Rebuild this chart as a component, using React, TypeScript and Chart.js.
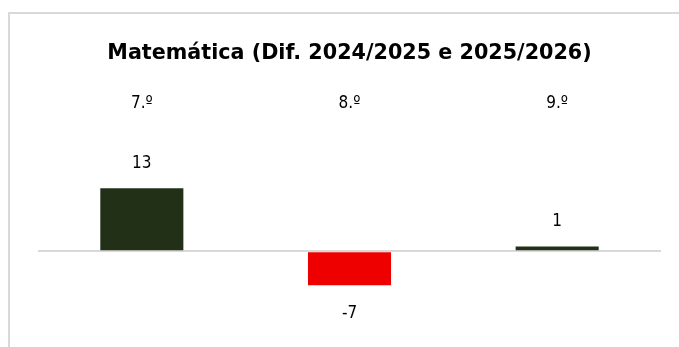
import React, { useEffect, useRef } from "react";
import { Chart, registerables } from "chart.js";

Chart.register(...registerables);

const categories = ["7.º", "8.º", "9.º"];
const values = [13, -7, 1];
const titleText = "Matemática (Dif. 2024/2025 e 2025/2026)";
const positiveColor = "#213017";
const negativeColor = "#ee0000";
const FONT = '"DejaVu Sans Condensed", "DejaVu Sans", sans-serif';
const TITLE_FONT = '"DejaVu Sans", sans-serif';

const framePlugin = {
  id: "frame",
  beforeDraw(chart: any) {
    const ctx = chart.ctx;
    ctx.save();
    ctx.fillStyle = "#ffffff";
    ctx.fillRect(0, 0, chart.width, chart.height);
    ctx.strokeStyle = "#d9d9d9";
    ctx.lineWidth = 2;
    ctx.beginPath();
    ctx.moveTo(9, chart.height);
    ctx.lineTo(9, 13);
    ctx.lineTo(chart.width, 13);
    ctx.stroke();
    ctx.restore();
  },
};

const valueLabelPlugin = {
  id: "valueLabels",
  afterDatasetsDraw(chart: any) {
    const ctx = chart.ctx;
    const meta = chart.getDatasetMeta(0);
    ctx.save();
    ctx.font = `17px ${FONT}`;
    ctx.fillStyle = "#000000";
    ctx.textAlign = "center";
    ctx.textBaseline = "middle";
    meta.data.forEach((bar: any, i: number) => {
      const v = values[i];
      const y = v >= 0 ? bar.y - 25 : bar.y + 28;
      ctx.fillText(String(v), bar.x, y);
    });
    ctx.restore();
  },
};

export default function App() {
  const ref = useRef<HTMLCanvasElement>(null);
  useEffect(() => {
    if (!ref.current) return;
    const chart = new Chart(ref.current, {
      type: "bar",
      data: {
        labels: categories,
        datasets: [
          {
            data: values,
            backgroundColor: values.map((v) => (v >= 0 ? positiveColor : negativeColor)),
            borderWidth: 0,
            barPercentage: 1,
            categoryPercentage: 0.4,
          },
        ],
      },
      options: {
        animation: false,
        responsive: false,
        maintainAspectRatio: false,
        layout: { padding: { left: 38, right: 18, top: 30, bottom: 6 } },
        plugins: {
          legend: { display: false },
          tooltip: { enabled: false },
          title: {
            display: true,
            text: titleText,
            color: "#000000",
            font: { family: TITLE_FONT, size: 20.7, weight: "bold" },
            padding: { top: 11, bottom: 24 },
          },
        },
        scales: {
          x: {
            position: "top",
            grid: { display: false, drawTicks: false },
            border: { display: false },
            ticks: {
              color: "#000000",
              font: { family: FONT, size: 17 },
              padding: 4,
            },
          },
          y: {
            min: -18.45,
            max: 27.4,
            grid: {
              color: (c: any) => (c.tick && c.tick.value === 0 ? "#d9d9d9" : "rgba(0,0,0,0)"),
              lineWidth: 2,
              drawTicks: false,
            },
            border: { display: false },
            ticks: { display: false, stepSize: 1 },
          },
        },
      },
      plugins: [framePlugin, valueLabelPlugin],
    });
    return () => chart.destroy();
  }, []);
  return (
    <div style={{ position: "fixed", left: 0, top: 0, width: 679, height: 347, background: "#fff" }}>
      <canvas ref={ref} width={679} height={347} style={{ width: 679, height: 347, display: "block" }} />
    </div>
  );
}
